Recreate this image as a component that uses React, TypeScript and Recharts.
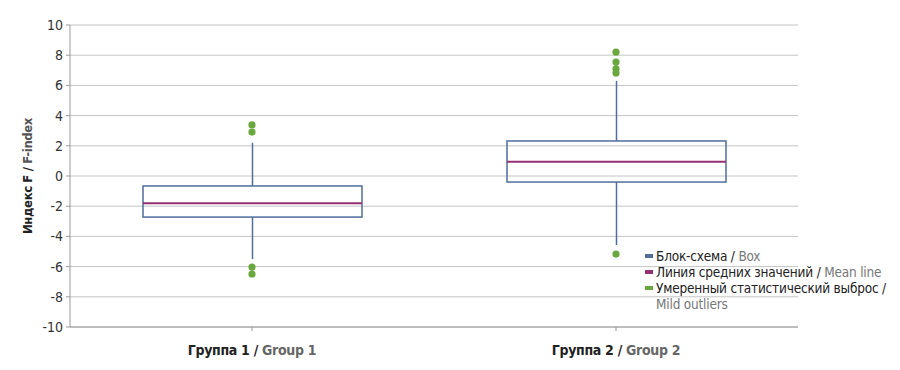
import { ComposedChart, Bar, Scatter, XAxis, YAxis, CartesianGrid, Label } from 'recharts';

const groupsRu = ['Группа 1', 'Группа 2'];
const groupsEn = ['Group 1', 'Group 2'];
const whiskerLow = [-5.5, -4.57];
const q1 = [-2.72, -0.4];
const means = [-1.8, 0.95];
const q3 = [-0.66, 2.32];
const whiskerHigh = [2.2, 6.3];
const outliersG1 = [3.38, 2.91, -6.03, -6.49];
const outliersG2 = [8.21, 7.55, 7.09, 6.82, -5.17];
const yTicks = [-10, -8, -6, -4, -2, 0, 2, 4, 6, 8, 10];

const FONT = '"Liberation Sans Narrow", "DejaVu Sans Condensed", "Roboto", sans-serif';
const BOX = '#4f6e9c';
const MEAN = '#932f72';
const OUT = '#69a83c';

const data = groupsRu.map((g, i) => ({
  group: g,
  en: groupsEn[i],
  range: [whiskerLow[i], whiskerHigh[i]],
  q1: q1[i],
  q3: q3[i],
  mean: means[i],
  lo: whiskerLow[i],
  hi: whiskerHigh[i],
}));

const outlierData = [
  ...outliersG1.map((v) => ({ group: groupsRu[0], value: v })),
  ...outliersG2.map((v) => ({ group: groupsRu[1], value: v })),
];

// box + whiskers + mean line, positioned off the bar's own scaled span
function BoxShape(props: any) {
  const { x, y, width, height, payload } = props;
  const { lo, hi } = payload;
  const px = (v: number) => y + (height * (hi - v)) / (hi - lo);
  const cx = x + width / 2;
  const top = px(payload.q3);
  const bot = px(payload.q1);
  const m = px(payload.mean);
  return (
    <g>
      <line x1={cx} x2={cx} y1={y} y2={top} stroke={BOX} strokeWidth={1.5} />
      <line x1={cx} x2={cx} y1={bot} y2={y + height} stroke={BOX} strokeWidth={1.5} />
      <rect x={x} y={top} width={width} height={bot - top} fill="none" stroke={BOX} strokeWidth={1.5} />
      <line x1={x} x2={x + width} y1={m} y2={m} stroke={MEAN} strokeWidth={2} />
    </g>
  );
}

function GroupTick(props: any) {
  const { x, y, payload, index } = props;
  return (
    <text
      x={x}
      y={y + 22}
      textAnchor="middle"
      fontFamily={FONT}
      fontSize={14}
      fontWeight="bold"
      letterSpacing={-0.3}
    >
      <tspan fill="#222">{payload.value} / </tspan>
      <tspan fill="#666">{groupsEn[index] ?? ''}</tspan>
    </text>
  );
}

function YLabel(props: any) {
  const { viewBox } = props;
  const cx = 27;
  const cy = viewBox.y + viewBox.height / 2;
  return (
    <text
      x={cx}
      y={cy}
      transform={`rotate(-90 ${cx} ${cy})`}
      textAnchor="middle"
      dominantBaseline="central"
      fontFamily={FONT}
      fontSize={13}
      fontWeight="bold"
      letterSpacing={-0.4}
    >
      <tspan fill="#222">Индекс F / </tspan>
      <tspan fill="#555">F-index</tspan>
    </text>
  );
}

const legendItems = [
  { color: BOX, ru: 'Блок-схема / ', en: 'Box' },
  { color: MEAN, ru: 'Линия средних значений / ', en: 'Mean line' },
  { color: OUT, ru: 'Умеренный статистический выброс /', en: '' },
];

export default function App() {
  return (
    <div style={{ position: 'absolute', left: 0, top: 0, width: 900, height: 370, background: '#fff' }}>
      <ComposedChart
        width={900}
        height={370}
        data={data}
        margin={{ top: 25, right: 102, bottom: 0, left: 40 }}
      >
        <CartesianGrid vertical={false} stroke="#c4c4c4" />
        <XAxis
          dataKey="group"
          allowDuplicatedCategory={false}
          height={43}
          stroke="#999"
          tickSize={4}
          tick={<GroupTick />}
          interval={0}
        />
        <YAxis
          type="number"
          domain={[-10, 10]}
          ticks={yTicks}
          width={30}
          stroke="#999"
          tickSize={4}
          tickMargin={3}
          tick={{ fontFamily: FONT, fontSize: 14, fill: '#333' }}
          interval={0}
        >
          <Label content={<YLabel />} />
        </YAxis>
        <Bar dataKey="range" barSize={219} shape={<BoxShape />} isAnimationActive={false} />
        <Scatter
          data={outlierData}
          dataKey="value"
          fill={OUT}
          isAnimationActive={false}
          shape={(p: any) => <circle cx={p.cx} cy={p.cy} r={3.6} fill={OUT} />}
        />
      </ComposedChart>
      <div
        style={{
          position: 'absolute',
          left: 645,
          top: 248,
          fontFamily: FONT,
          fontSize: 13.5,
          letterSpacing: -0.2,
          lineHeight: '16px',
          color: '#222',
        }}
      >
        {legendItems.map((it) => (
          <div key={it.ru} style={{ display: 'flex', alignItems: 'center', whiteSpace: 'nowrap' }}>
            <span style={{ display: 'inline-block', width: 8, height: 4, background: it.color, marginRight: 3 }} />
            <span>
              {it.ru}
              <span style={{ color: '#777' }}>{it.en}</span>
            </span>
          </div>
        ))}
        <div style={{ paddingLeft: 11, color: '#777' }}>Mild outliers</div>
      </div>
    </div>
  );
}
